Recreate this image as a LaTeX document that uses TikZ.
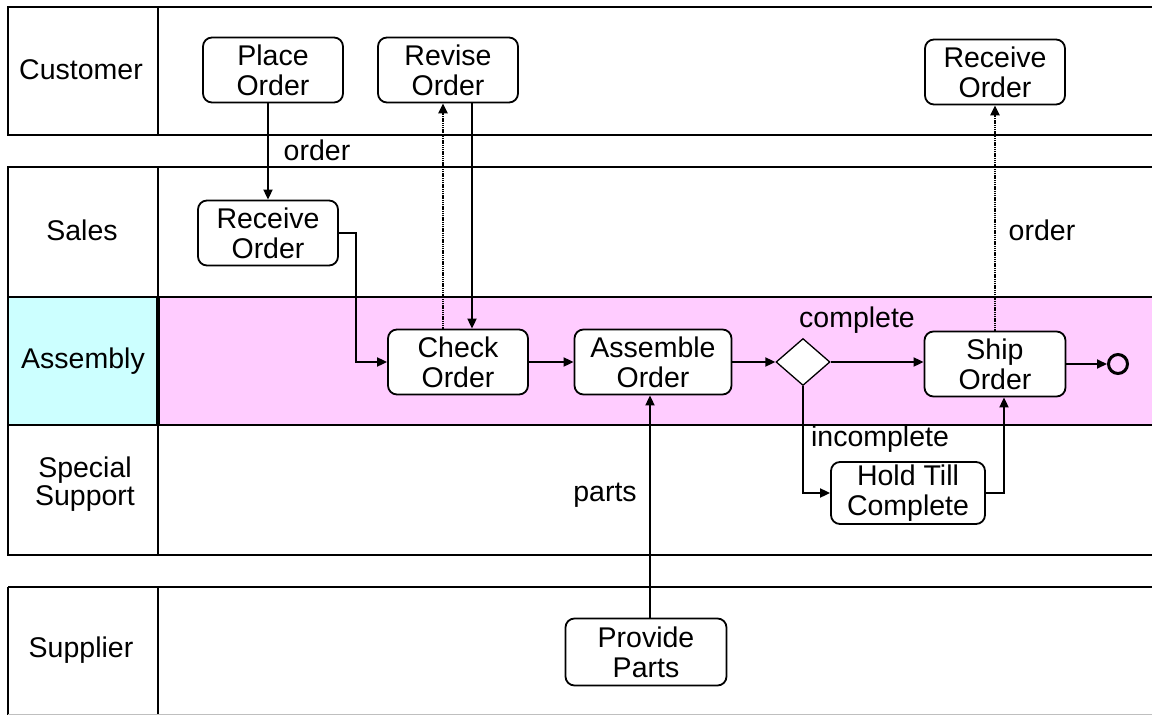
\documentclass[tikz,border=0pt]{standalone}
\usepackage{fontspec}
\setmainfont{Liberation Sans}
\usetikzlibrary{arrows.meta,shapes.geometric,calc}
\definecolor{lanepink}{RGB}{255,204,255}
\definecolor{lanecyan}{RGB}{204,255,255}
\newcommand\dgfont{\fontsize{28.5}{30}\selectfont}
\begin{document}
\begin{tikzpicture}[x=1pt,y=-1pt,
  lane/.style={draw, line width=2.2pt},
  lanelbl/.style={align=center, font=\dgfont, inner sep=0pt},
  task/.style={draw, rounded corners=9pt, fill=white, line width=1.8pt, align=center,
    minimum width=140pt, minimum height=65pt, inner sep=0pt, font=\dgfont},
  lbl/.style={font=\dgfont, inner sep=0pt},
  arr/.style={line width=1.8pt, -{Triangle[length=10pt,width=9pt]}},
  darr/.style={line width=2.6pt, dash pattern=on 1.5pt off 0.7pt, -{Triangle[length=10pt,width=9pt]}},
]
\useasboundingbox (0,0) rectangle (1152,715);
\clip (0,0) rectangle (1152,715);
\fill[white] (0,0) rectangle (1152,715);

% lanes
\draw[lane] (8,7) rectangle (1175,135);
\draw[lane] (158,7) -- (158,135);
\draw[lane] (8,167) rectangle (1175,297);
\draw[lane] (158,167) -- (158,297);
\fill[lanecyan] (8,297) rectangle (158,425);
\fill[lanepink] (158,297) rectangle (1175,425);
\draw[lane] (8,297) rectangle (1175,425);
\draw[line width=3.2pt] (158,297) -- (158,425);
\draw[lane] (8,425) rectangle (1175,555);
\draw[lane] (158,425) -- (158,555);
\draw[lane] (8,587) -- (1175,587);
\draw[lane] (8,587) -- (8,720);
\draw[lane] (158,587) -- (158,720);
\draw[line width=0.8pt, black!25] (8,714) -- (1175,714);

\node[lanelbl] (lcust) at (81,70) {Customer};
\node[lanelbl] (lsales) at (82,230) {Sales};
\node[lanelbl] (lasm) at (83,361) {Assembly};
\node[lanelbl] (lspec) at (85,484) {Special\\[-2pt]Support};
\node[lanelbl] (lsup) at (81,650) {Supplier};

% tasks
\node[task] (po) at (273,70) {Place\\Order};
\node[task] (rev) at (448,70) {Revise\\Order};
\node[task] (rc2) at (995,72) {Receive\\Order};
\node[task] (rc1) at (268,233) {Receive\\Order};
\node[task] (co) at (458,362) {Check\\Order};
\node[task, minimum width=157pt] (ao) at (653,362) {Assemble\\Order};
\node[diamond, draw, fill=white, line width=1.3pt, minimum width=54pt, minimum height=47pt, inner sep=0pt] (dia) at (803,362) {};
\node[task, minimum width=141pt] (ship) at (995,364) {Ship\\Order};
\node[draw, circle, line width=3pt, minimum size=19pt, inner sep=0pt] (end) at (1118,364) {};
\node[task, minimum width=154pt, minimum height=62pt] (hold) at (908,493) {Hold Till\\Complete};
\node[task, minimum width=161pt, minimum height=67pt] (pp) at (646,652) {Provide\\Parts};

% connectors
\draw[arr] (rc1.north |- po.south) -- (rc1.north);
\node[lbl] (lord1) at (317,150) {order};
\draw[arr] (rc1.east) -- ++(17,0) |- (co.west);
\draw[darr] ($(co.north)+(-15,0)$) -- ($(rev.south)+(-5,0)$);
\draw[arr] ($(rev.south)+(24,0)$) -- ($(co.north)+(14,0)$);
\draw[arr] (co.east) -- (ao.west);
\draw[arr] (ao.east) -- (dia.west);
\draw[arr] (dia.east) -- (ship.west |- dia.east);
\node[lbl] (lcomp) at (857,320) {complete};
\draw[arr] (ship.east) -- (end.west |- ship.east);
\draw[arr] (dia.south) |- (hold.west);
\node[lbl] (linc) at (880,439) {incomplete};
\draw[arr] (hold.east) -| ($(ship.south)+(9,0)$);
\coordinate (px) at (650,0);
\draw[arr] (pp.north -| px) -- (ao.south -| px);
\node[lbl] (lparts) at (605,495) {parts};
\draw[darr] (ship.north) -- (rc2.south);
\node[lbl] (lord2) at (1042,230) {order};
\end{tikzpicture}
\end{document}
